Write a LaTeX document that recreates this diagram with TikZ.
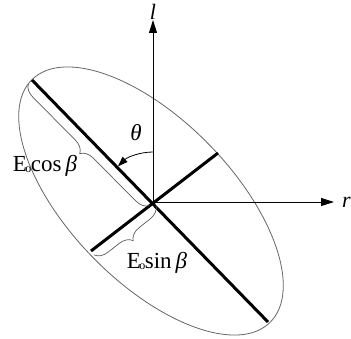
\documentclass[tikz,border=0pt]{standalone}
\usepackage{fontspec}
\setmainfont{Liberation Serif}
\usetikzlibrary{arrows.meta,decorations.pathreplacing,calc}
\newcommand{\subo}{\kern-1.5pt\raisebox{-1pt}{\fontsize{12}{12}\selectfont o}\kern-0.5pt}
\begin{document}
\begin{tikzpicture}[x=1pt,y=1pt,
  axis/.style={line width=0.9pt,-{Triangle[length=13pt,width=8pt]}},
  semiaxis/.style={line width=3pt},
  outline/.style={draw=black!60,line width=0.8pt},
  bracestyle/.style={draw=black!65,line width=0.7pt,decorate,decoration={brace,amplitude=13pt,raise=5pt}},
  lbl/.style={inner sep=0pt,font=\fontsize{23}{27}\selectfont},
  axlbl/.style={inner sep=0pt,font=\fontsize{22}{26}\selectfont\itshape}]
\path[use as bounding box] (0,0) rectangle (351,338);
\coordinate (O) at (153,136);
\coordinate (C) at (151,137);
\coordinate (Ytip) at (153,318);
\coordinate (Xtip) at (334,136);
\coordinate (Ma) at (32,258);
\coordinate (Mb) at (268,16);
\coordinate (Na) at (91,87);
\coordinate (Nb) at (218,185);
\coordinate (T0) at ($(O)+(90:50)$);
% ellipse
\draw[outline] (C) ellipse [x radius=170pt, y radius=81pt, rotate=-45.6];
% axes
\draw[axis] (O) -- (Ytip);
\draw[axis] (O) -- (Xtip);
\node[axlbl] (ylab) at (153,326) {l};
\node[axlbl,anchor=west] (xlab) at (342,136) {r};
% semi-axes
\draw[semiaxis] (Ma) -- (Mb);
\draw[semiaxis] (Na) -- (Nb);
% theta arc
\draw[line width=0.8pt,-{Triangle[length=10pt,width=7pt]}] (T0) arc[start angle=90,end angle=134.5,radius=50pt];
\node[lbl,font=\fontsize{23}{27}\selectfont\itshape] (th) at (136,205) {θ};
% braces
\draw[bracestyle] (O) -- (Ma);
\draw[bracestyle] (O) -- (Na);
\node[lbl] (cl) at (45,172) {E\subo cos\kern4pt\textit{β}};
\node[lbl] (sl) at (157,75) {E\subo sin\kern4pt\textit{β}};
\end{tikzpicture}
\end{document}
